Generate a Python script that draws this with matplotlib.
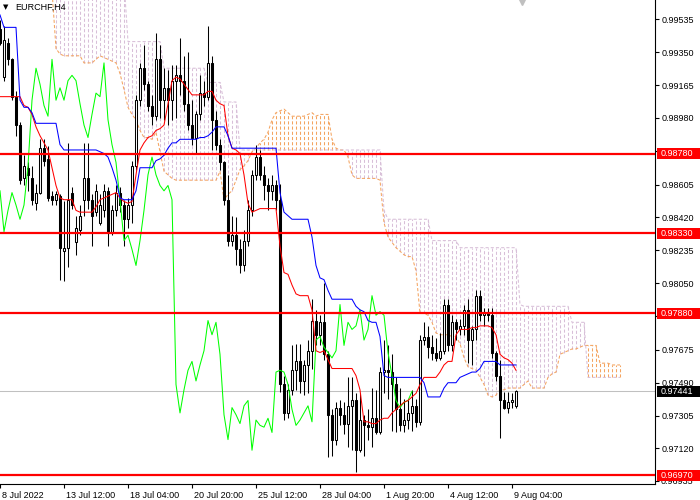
import numpy as np
import matplotlib.pyplot as plt
from matplotlib.patches import Rectangle
from matplotlib.transforms import ScaledTranslation, Bbox, TransformedBbox

plt.rcParams['font.family'] = ['Liberation Sans', 'DejaVu Sans']

# EURCHF H4 candles, bar 0 = 8 Jul 20:00
opens = [
    0.9948, 0.9921, 0.9940, 0.9931, 0.9910, 0.9894, 0.9864, 0.9870, 0.9864, 0.9850,
    0.9856, 0.9881, 0.9875, 0.9854, 0.9852, 0.9854, 0.9823, 0.9825, 0.9856, 0.9828,
    0.9835, 0.9852, 0.9864, 0.9852, 0.9845, 0.9839, 0.9846, 0.9857, 0.9834, 0.9846,
    0.9856, 0.9849, 0.9841, 0.9849, 0.9871, 0.9908, 0.9926, 0.9917, 0.9905, 0.9899,
    0.9931, 0.9908, 0.9915, 0.9908, 0.9919, 0.9922, 0.9919, 0.9906, 0.9894, 0.9887,
    0.9900, 0.9912, 0.9910, 0.9929, 0.9897, 0.9883, 0.9873, 0.9852, 0.9829, 0.9832,
    0.9824, 0.9815, 0.9829, 0.9846, 0.9866, 0.9876, 0.9866, 0.9860, 0.9857, 0.9860,
    0.9852, 0.9748, 0.9732, 0.9745, 0.9756, 0.9761, 0.9750, 0.9759, 0.9767, 0.9784,
    0.9776, 0.9783, 0.9765, 0.9731, 0.9717, 0.9735, 0.9731, 0.9726, 0.9736, 0.9739,
    0.9711, 0.9728, 0.9725, 0.9724, 0.9729, 0.9721, 0.9755, 0.9756, 0.9755, 0.9748,
    0.9734, 0.9725, 0.9728, 0.9732, 0.9736, 0.9727, 0.9773, 0.9775, 0.9769, 0.9766,
    0.9763, 0.9767, 0.9793, 0.9770, 0.9783, 0.9779, 0.9781, 0.9790, 0.9773, 0.9779,
    0.9798, 0.9787, 0.9789, 0.9787, 0.9766, 0.9753, 0.9739, 0.9735, 0.9738, 0.9736,
]
highs = [
    0.9953, 0.9950, 0.9943, 0.9932, 0.9913, 0.9896, 0.9877, 0.9873, 0.9871, 0.9861,
    0.9886, 0.9886, 0.9882, 0.9857, 0.9857, 0.9855, 0.9851, 0.9884, 0.9859, 0.9843,
    0.9849, 0.9884, 0.9884, 0.9855, 0.9861, 0.9855, 0.9861, 0.9859, 0.9849, 0.9860,
    0.9859, 0.9852, 0.9853, 0.9874, 0.9911, 0.9929, 0.9939, 0.9919, 0.9911, 0.9946,
    0.9939, 0.9926, 0.9925, 0.9928, 0.9928, 0.9943, 0.9933, 0.9935, 0.9908, 0.9902,
    0.9922, 0.9919, 0.9950, 0.9933, 0.9902, 0.9886, 0.9874, 0.9866, 0.9843, 0.9842,
    0.9830, 0.9835, 0.9852, 0.9869, 0.9883, 0.9880, 0.9871, 0.9864, 0.9866, 0.9863,
    0.9861, 0.9753, 0.9748, 0.9770, 0.9771, 0.9771, 0.9762, 0.9773, 0.9796, 0.9790,
    0.9787, 0.9805, 0.9767, 0.9734, 0.9738, 0.9739, 0.9738, 0.9752, 0.9752, 0.9743,
    0.9743, 0.9731, 0.9734, 0.9746, 0.9745, 0.9758, 0.9773, 0.9770, 0.9765, 0.9752,
    0.9746, 0.9740, 0.9740, 0.9745, 0.9740, 0.9776, 0.9783, 0.9781, 0.9776, 0.9774,
    0.9777, 0.9796, 0.9796, 0.9787, 0.9785, 0.9785, 0.9793, 0.9796, 0.9781, 0.9801,
    0.9801, 0.9791, 0.9791, 0.9791, 0.9767, 0.9762, 0.9744, 0.9744, 0.9743, 0.9745,
]
lows = [
    0.9939, 0.9919, 0.9928, 0.9908, 0.9888, 0.9861, 0.9860, 0.9857, 0.9849, 0.9846,
    0.9855, 0.9871, 0.9851, 0.9849, 0.9849, 0.9807, 0.9806, 0.9814, 0.9847, 0.9821,
    0.9832, 0.9843, 0.9847, 0.9826, 0.9843, 0.9838, 0.9842, 0.9826, 0.9832, 0.9843,
    0.9845, 0.9826, 0.9836, 0.9839, 0.9869, 0.9905, 0.9914, 0.9902, 0.9894, 0.9897,
    0.9898, 0.9897, 0.9894, 0.9897, 0.9898, 0.9911, 0.9902, 0.9891, 0.9883, 0.9878,
    0.9897, 0.9905, 0.9908, 0.9880, 0.9880, 0.9869, 0.9849, 0.9826, 0.9826, 0.9815,
    0.9811, 0.9812, 0.9826, 0.9843, 0.9863, 0.9863, 0.9852, 0.9846, 0.9852, 0.9846,
    0.9744, 0.9728, 0.9729, 0.9742, 0.9745, 0.9743, 0.9742, 0.9743, 0.9757, 0.9770,
    0.9770, 0.9762, 0.9707, 0.9708, 0.9714, 0.9725, 0.9720, 0.9713, 0.9711, 0.9699,
    0.9710, 0.9708, 0.9717, 0.9713, 0.9720, 0.9720, 0.9743, 0.9740, 0.9722, 0.9721,
    0.9722, 0.9721, 0.9723, 0.9722, 0.9724, 0.9725, 0.9770, 0.9763, 0.9762, 0.9761,
    0.9762, 0.9765, 0.9767, 0.9767, 0.9773, 0.9776, 0.9776, 0.9760, 0.9759, 0.9773,
    0.9784, 0.9781, 0.9784, 0.9763, 0.9750, 0.9718, 0.9734, 0.9732, 0.9735, 0.9735,
]
closes = [
    0.9940, 0.9942, 0.9931, 0.9910, 0.9894, 0.9863, 0.9871, 0.9866, 0.9852, 0.9856,
    0.9881, 0.9874, 0.9853, 0.9852, 0.9855, 0.9825, 0.9825, 0.9852, 0.9849, 0.9836,
    0.9843, 0.9864, 0.9852, 0.9843, 0.9857, 0.9849, 0.9857, 0.9834, 0.9846, 0.9856,
    0.9849, 0.9841, 0.9849, 0.9871, 0.9908, 0.9926, 0.9917, 0.9905, 0.9899, 0.9931,
    0.9908, 0.9915, 0.9908, 0.9919, 0.9922, 0.9919, 0.9906, 0.9894, 0.9887, 0.9900,
    0.9912, 0.9910, 0.9929, 0.9897, 0.9883, 0.9873, 0.9852, 0.9829, 0.9832, 0.9824,
    0.9815, 0.9829, 0.9846, 0.9866, 0.9876, 0.9866, 0.9860, 0.9857, 0.9860, 0.9852,
    0.9748, 0.9732, 0.9745, 0.9756, 0.9761, 0.9750, 0.9759, 0.9767, 0.9784, 0.9776,
    0.9783, 0.9765, 0.9731, 0.9717, 0.9735, 0.9731, 0.9726, 0.9736, 0.9739, 0.9711,
    0.9728, 0.9725, 0.9724, 0.9729, 0.9721, 0.9755, 0.9756, 0.9755, 0.9748, 0.9734,
    0.9725, 0.9728, 0.9732, 0.9736, 0.9727, 0.9773, 0.9775, 0.9769, 0.9766, 0.9763,
    0.9767, 0.9793, 0.9770, 0.9783, 0.9779, 0.9781, 0.9790, 0.9773, 0.9779, 0.9798,
    0.9787, 0.9789, 0.9787, 0.9766, 0.9753, 0.9739, 0.9735, 0.9738, 0.9739, 0.97441,
]

# ichimoku lines
tenkan = [
    0.9910, 0.9910, 0.9910, 0.9910, 0.9910, 0.9910, 0.9905, 0.9904, 0.9900, 0.9893,
    0.9888, 0.9884, 0.9880, 0.9870, 0.9860, 0.9853, 0.9852, 0.9852, 0.9852, 0.9846,
    0.9845, 0.9845, 0.9845, 0.9845, 0.9848, 0.9852, 0.9853, 0.9854, 0.9855, 0.9856,
    0.9853, 0.9851, 0.9850, 0.9851, 0.9866, 0.9880, 0.9884, 0.9887, 0.9888, 0.9891,
    0.9892, 0.9894, 0.9906, 0.9919, 0.9921, 0.9920, 0.9917, 0.9914, 0.9911, 0.9911,
    0.9911, 0.9911, 0.9913, 0.9913, 0.9908, 0.9906, 0.9905, 0.9888, 0.9881, 0.9880,
    0.9878, 0.9866, 0.9850, 0.9845, 0.9846, 0.9847, 0.9847, 0.9847, 0.9847, 0.9847,
    0.9826, 0.9811, 0.9810, 0.9804, 0.9799, 0.9798, 0.9798, 0.9798, 0.9790, 0.9767,
    0.9766, 0.9767, 0.9762, 0.9757, 0.9757, 0.9757, 0.9757, 0.9757, 0.9757, 0.9753,
    0.9745, 0.9727, 0.9727, 0.9726, 0.9726, 0.9728, 0.9729, 0.9729, 0.9732, 0.9734,
    0.9736, 0.9738, 0.9739, 0.9741, 0.9743, 0.9748, 0.9752, 0.9752, 0.9752, 0.9752,
    0.9755, 0.9759, 0.9761, 0.9761, 0.9776, 0.9779, 0.9779, 0.9779, 0.9780, 0.9780,
    0.9781, 0.9781, 0.9781, 0.9780, 0.9776, 0.9765, 0.9763, 0.9762, 0.9760, 0.9756,
]
kijun = [
    0.9956, 0.9949, 0.9949, 0.9949, 0.9949, 0.9908, 0.9904, 0.9904, 0.9901, 0.9895,
    0.9895, 0.9895, 0.9895, 0.9895, 0.9895, 0.9883, 0.9880, 0.9880, 0.9880, 0.9880,
    0.9880, 0.9880, 0.9880, 0.9880, 0.9880, 0.9879, 0.9878, 0.9876, 0.9870, 0.9863,
    0.9853, 0.9852, 0.9852, 0.9852, 0.9857, 0.9870, 0.9870, 0.9870, 0.9870, 0.9874,
    0.9875, 0.9877, 0.9881, 0.9884, 0.9884, 0.9886, 0.9886, 0.9886, 0.9886, 0.9886,
    0.9887, 0.9887, 0.9888, 0.9890, 0.9893, 0.9893, 0.9893, 0.9888, 0.9881, 0.9881,
    0.9881, 0.9881, 0.9881, 0.9881, 0.9881, 0.9881, 0.9881, 0.9881, 0.9881, 0.9881,
    0.9856, 0.9845, 0.9843, 0.9841, 0.9841, 0.9841, 0.9841, 0.9841, 0.9831, 0.9815,
    0.9808, 0.9807, 0.9801, 0.9796, 0.9796, 0.9796, 0.9796, 0.9796, 0.9796, 0.9792,
    0.9790, 0.9789, 0.9784, 0.9783, 0.9783, 0.9775, 0.9753, 0.9752, 0.9752, 0.9752,
    0.9752, 0.9752, 0.9752, 0.9752, 0.9752, 0.9752, 0.9749, 0.9741, 0.9741, 0.9741,
    0.9741, 0.9746, 0.9749, 0.9749, 0.9749, 0.9752, 0.9753, 0.9754, 0.9755, 0.9755,
    0.9757, 0.9761, 0.9761, 0.9761, 0.9761, 0.9759, 0.9759, 0.9759, 0.9759, 0.9759,
]
# senkou spans, already shifted 26 bars forward
span_a = [
    0.9980, 0.9980, 0.9980, 0.9980, 0.9980, 0.9980, 0.9980, 0.9980, 0.9980, 0.9980,
    0.9980, 0.9980, 0.9980, 0.9970, 0.9937, 0.9934, 0.9933, 0.9933, 0.9933, 0.9933,
    0.9933, 0.9929, 0.9929, 0.9929, 0.9931, 0.9933, 0.9932, 0.9931, 0.9930, 0.9929,
    0.9923, 0.9914, 0.9904, 0.9900, 0.9897, 0.9891, 0.9887, 0.9887, 0.9886, 0.9890,
    0.9879, 0.9868, 0.9866, 0.9864, 0.9863, 0.9863, 0.9863, 0.9863, 0.9863, 0.9863,
    0.9863, 0.9863, 0.9863, 0.9863, 0.9863, 0.9868, 0.9852, 0.9855, 0.9857, 0.9863,
    0.9869, 0.9871, 0.9874, 0.9879, 0.9881, 0.9884, 0.9886, 0.9890, 0.9897, 0.9901,
    0.9902, 0.9903, 0.9901, 0.9899, 0.9899, 0.9899, 0.9899, 0.9900, 0.9901, 0.9899,
    0.9900, 0.9900, 0.9900, 0.9886, 0.9881, 0.9880, 0.9880, 0.9876, 0.9866, 0.9864,
    0.9864, 0.9864, 0.9864, 0.9864, 0.9864, 0.9863, 0.9839, 0.9831, 0.9828, 0.9825,
    0.9823, 0.9821, 0.9820, 0.9820, 0.9812, 0.9788, 0.9788, 0.9787, 0.9783, 0.9777,
    0.9776, 0.9776, 0.9776, 0.9775, 0.9775, 0.9771, 0.9763, 0.9758, 0.9757, 0.9756,
    0.9752, 0.9748, 0.9742, 0.9741, 0.9742, 0.9745, 0.9745, 0.9746, 0.9746, 0.9746,
    0.9746, 0.9748, 0.9750, 0.9746, 0.9746, 0.9746, 0.9746, 0.9752, 0.9754, 0.9755,
    0.9765, 0.9766, 0.9767, 0.9768, 0.9768, 0.9769, 0.9770, 0.9770, 0.9770, 0.9770,
    0.9760, 0.9760, 0.9760, 0.9759, 0.9759, 0.9759,
]
span_b = [
    0.9995, 0.9995, 0.9995, 0.9995, 0.9995, 0.9995, 0.9995, 0.9995, 0.9995, 0.9995,
    0.9995, 0.9995, 0.9995, 0.9975, 0.9975, 0.9975, 0.9975, 0.9975, 0.9975, 0.9975,
    0.9975, 0.9975, 0.9975, 0.9975, 0.9975, 0.9975, 0.9975, 0.9975, 0.9975, 0.9975,
    0.9975, 0.9975, 0.9941, 0.9941, 0.9941, 0.9941, 0.9941, 0.9941, 0.9941, 0.9941,
    0.9941, 0.9926, 0.9926, 0.9926, 0.9926, 0.9926, 0.9926, 0.9926, 0.9926, 0.9926,
    0.9926, 0.9926, 0.9918, 0.9918, 0.9918, 0.9918, 0.9907, 0.9907, 0.9907, 0.9907,
    0.9880, 0.9880, 0.9880, 0.9880, 0.9880, 0.9880, 0.9880, 0.9880, 0.9880, 0.9880,
    0.9880, 0.9880, 0.9880, 0.9880, 0.9880, 0.9880, 0.9880, 0.9880, 0.9880, 0.9880,
    0.9880, 0.9880, 0.9880, 0.9880, 0.9880, 0.9880, 0.9880, 0.9880, 0.9880, 0.9880,
    0.9880, 0.9880, 0.9880, 0.9880, 0.9880, 0.9880, 0.9846, 0.9841, 0.9841, 0.9841,
    0.9841, 0.9841, 0.9841, 0.9841, 0.9841, 0.9841, 0.9841, 0.9841, 0.9829, 0.9829,
    0.9829, 0.9829, 0.9829, 0.9829, 0.9829, 0.9825, 0.9825, 0.9825, 0.9825, 0.9825,
    0.9825, 0.9825, 0.9825, 0.9825, 0.9825, 0.9825, 0.9825, 0.9825, 0.9825, 0.9825,
    0.9793, 0.9792, 0.9792, 0.9792, 0.9792, 0.9792, 0.9792, 0.9792, 0.9792, 0.9792,
    0.9792, 0.9792, 0.9792, 0.9783, 0.9783, 0.9783, 0.9783, 0.9752, 0.9752, 0.9752,
    0.9752, 0.9752, 0.9752, 0.9752, 0.9752, 0.9752,
]
chikou_shift = 26

levels = [0.98780, 0.98330, 0.97880, 0.96970]
last_price = 0.97441
price_ticks = [0.99535, 0.99350, 0.99165, 0.98980, 0.98795, 0.98605, 0.98420, 0.98235,
               0.98050, 0.97865, 0.97675, 0.97490, 0.97305, 0.97120, 0.96935]
# ticks whose labels sit under a level box
hidden_ticks = [0.98795]
half_hidden_ticks = [0.97865, 0.96935]
time_ticks = [0, 16, 32, 48, 64, 80, 96, 112, 128]
time_labels = ['8 Jul 2022', '13 Jul 12:00', '18 Jul 04:00', '20 Jul 20:00', '25 Jul 12:00',
               '28 Jul 04:00', '1 Aug 20:00', '4 Aug 12:00', '9 Aug 04:00']

SANDY = '#F4A460'
THISTLE = '#D8BFD8'

fig = plt.figure(figsize=(7, 5), dpi=100)
ax = fig.add_axes([0, 16 / 500, 655 / 700, 484 / 500])
ax.set_xlim(0, 163.75)
ax.set_ylim(0.96920, 0.99644)

# cloud hatching
sa = np.array(span_a)
sb = np.array(span_b)
xc = np.arange(len(sa))
cols = [SANDY if a > b else THISTLE for a, b in zip(sa, sb)]
ax.vlines(xc, np.minimum(sa, sb), np.maximum(sa, sb), colors=cols,
          linestyles=[(0, (3, 2))], linewidth=0.75, zorder=1)
ax.plot(xc, sa, color=SANDY, lw=0.75, ls=(0, (3, 2)), zorder=1.2)
ax.plot(xc, sb, color=THISTLE, lw=0.75, ls=(0, (3, 2)), zorder=1.2)

ax.axhline(last_price, color='#c0c0c0', lw=0.75, zorder=1.5)

# candles
o = np.array(opens)
h = np.array(highs)
l = np.array(lows)
c = np.array(closes)
xb = np.arange(len(o))
ax.vlines(xb, l, h, colors='black', linewidth=0.75, zorder=2)
faces = ['white' if cc > oo else 'black' for oo, cc in zip(o, c)]
ax.bar(xb, np.abs(c - o), bottom=np.minimum(o, c), width=0.5, color=faces,
       edgecolor='black', linewidth=0.75, zorder=2.1)

# ichimoku lines
ax.plot(np.arange(len(c) - chikou_shift), c[chikou_shift:], color='#00FF00', lw=0.75, zorder=3)
ax.plot(xb, tenkan, color='red', lw=0.75, zorder=3.1)
ax.plot(xb, kijun, color='blue', lw=0.75, zorder=3.2)

for lv in levels:
    ax.axhline(lv, color='red', lw=1.6, zorder=4)

# axes look
for s in ['left', 'top']:
    ax.spines[s].set_visible(False)
for s in ['right', 'bottom']:
    ax.spines[s].set_linewidth(0.8)
ax.yaxis.tick_right()
ax.set_yticks(price_ticks)
ax.set_yticklabels(['' if (p in hidden_ticks or p in half_hidden_ticks) else '%.5f' % p
                    for p in price_ticks])
ax.tick_params(axis='y', length=3, width=0.8, pad=2, labelsize=6.5)
ax.set_xticks(time_ticks)
ax.set_xticklabels(time_labels, ha='left')
ax.tick_params(axis='x', length=3, width=0.8, pad=2, labelsize=6.5)
off = ScaledTranslation(2 / 100, 0, fig.dpi_scale_trans)
for lab in ax.get_xticklabels():
    lab.set_transform(lab.get_transform() + off)

# price boxes on the right scale
ytr = ax.get_yaxis_transform()
box_h = 11 * (0.99644 - 0.96920) / 484
for lv in levels:
    ax.add_patch(Rectangle((1.003, lv - box_h / 2), 0.066, box_h, transform=ytr,
                           facecolor='red', edgecolor='none', clip_on=False, zorder=5))
    ax.text(1.009, lv, '%.5f' % lv, transform=ytr, color='white', fontsize=6.5,
            va='center', ha='left', clip_on=False, zorder=6)
ax.add_patch(Rectangle((1.003, last_price - box_h / 2), 0.066, box_h, transform=ytr,
                       facecolor='black', edgecolor='none', clip_on=False, zorder=5))
ax.text(1.009, last_price, '%.5f' % last_price, transform=ytr, color='white', fontsize=6.5,
        va='center', ha='left', clip_on=False, zorder=6)

# scale labels peeking out below a level box
for p in half_hidden_ticks:
    covering = min(levels, key=lambda lv: abs(lv - p))
    t = ax.text(1.009, p, '%.5f' % p, transform=ytr, fontsize=6.5, va='center', ha='left',
                zorder=4.5)
    t.set_clip_box(TransformedBbox(Bbox([[1.0, p - 0.002], [1.1, covering - box_h / 2]]), ytr))
    t.set_clip_on(True)

# title + shift marker
fig.text(3 / 700, 1 - 7 / 500, '\u25bc', fontsize=5, va='center', ha='left',
         family=['DejaVu Sans'])
fig.text(15 / 700, 1 - 7 / 500, 'EURCHF,H4', fontsize=6.5, va='center', ha='left')
ax.plot([522 / 655], [1 - 1 / 484], marker='v', ms=6, color='#c0c0c0',
        transform=ax.transAxes, clip_on=False, zorder=6)

fig.savefig('out.png', dpi=100)
